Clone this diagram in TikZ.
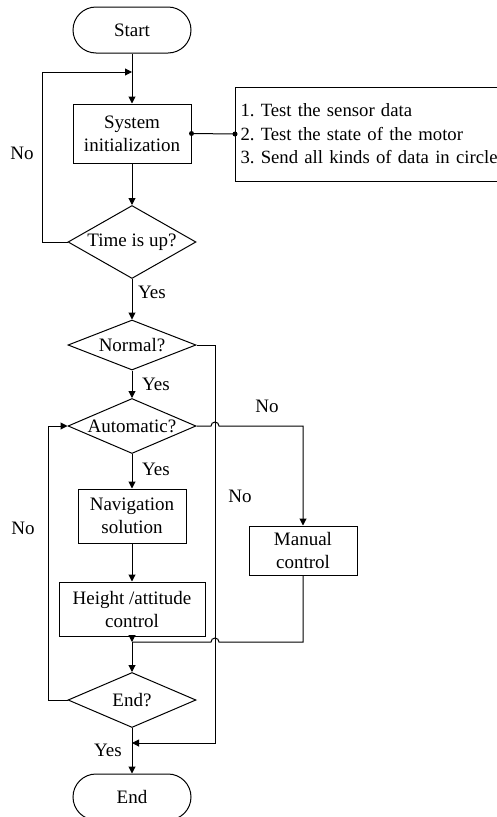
\documentclass[tikz,border=0pt]{standalone}
\usepackage{fontspec}
\setmainfont{Liberation Serif}
\usetikzlibrary{arrows.meta,shapes.geometric,calc}
\frenchspacing

\begin{document}
\begin{tikzpicture}[x=1pt,y=-1pt]
\tikzset{every node/.style={font=\fontsize{19}{23}\selectfont}}
\tikzset{line/.style={line width=1pt}}
\tikzset{arr/.style={line,-{Triangle[length=7pt,width=7pt]}}}
\tikzset{term/.style={draw,line,rounded corners=23pt,minimum width=118pt,minimum height=46pt}}
\tikzset{proc/.style={draw,line,align=center,minimum width=108pt,minimum height=54pt,inner sep=2pt}}
\tikzset{cond/.style={draw,line,diamond,inner sep=0pt,shape aspect=2.33,minimum width=128pt,minimum height=55pt}}

\useasboundingbox (0,0) rectangle (496,817);

\node[term] (start) at (132,30) {Start};
\node[proc,minimum width=118pt,minimum height=59pt] (init) at (132,133.5) {System\\initialization};
\node[draw,line,anchor=west,text width=268pt,align=left,inner xsep=5pt,minimum height=94pt,font=\fontsize{18.7}{23.5}\selectfont] (note) at (235,134)
  {1. Test the sensor data\\2. Test the state of the motor\\3. Send all kinds of data in circle};
\node[cond,shape aspect=1.75,minimum height=73pt] (time) at (132,242) {Time is up?};
\node[cond,shape aspect=2.56,minimum height=50pt] (normal) at (132,345) {Normal?};
\node[cond] (auto) at (132,426) {Automatic?};
\node[proc] (nav) at (132,516) {Navigation\\solution};
\node[proc,minimum height=49pt] (manual) at (303,550.5) {Manual\\control};
\node[proc,minimum width=146pt] (height) at (132,609) {Height /attitude\\control};
\node[cond] (enddec) at (132,700) {End?};
\node[term] (end) at (132,797) {End};

\coordinate (joinA) at (132,72);
\coordinate (rail) at (215,345);
\coordinate (joinB) at (132,642);
\coordinate (joinC) at (132,743);

\draw[arr] (start.south) -- (init.north);
\draw[arr] (time.west) -- ++(-25,0) |- (joinA);
\draw[arr] (init) -- (time);
\draw[line] (init.east) -- (note.west);
\fill (init.east) circle (2.5pt) (note.west) circle (2.5pt);
\draw[arr] (time) -- (normal);
\draw[arr] (normal) -- (auto);
\draw[arr] (auto) -- (nav);
\draw[arr] (nav) -- (height);
\draw[arr] (height) -- (joinB);
\draw[arr] (joinB) -- (enddec);
\draw[arr] (enddec) -- (end);
\draw[arr] (normal.east) -| (rail |- joinC) -- (joinC);
\draw[arr] (auto.east) -- ($(rail |- auto.east)+(-4,0)$) arc (180:0:4pt) -| (manual.north);
\draw[line] (manual.south) |- ($(rail |- joinB)+(4,0)$) arc (0:180:4pt) -- (joinB);
\draw[arr] (enddec.west) -- ++(-19,0) |- (auto.west);

\node (noA) at (22,153) {No};
\node (yesA) at (152,292) {Yes};
\node (yesB) at (156,384) {Yes};
\node (noB) at (267,406) {No};
\node (yesC) at (156,469) {Yes};
\node (noC) at (240,496) {No};
\node (noD) at (23,528) {No};
\node (yesD) at (108,750) {Yes};
\end{tikzpicture}
\end{document}
